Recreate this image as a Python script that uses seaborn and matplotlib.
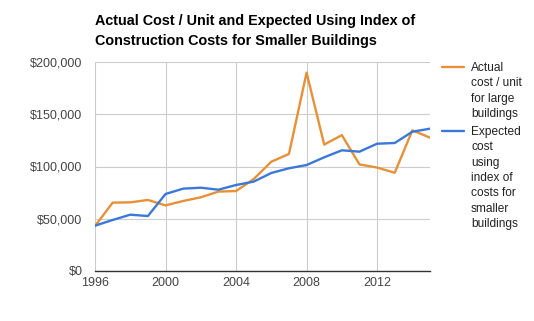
import matplotlib
matplotlib.use("Agg")
import matplotlib.pyplot as plt
import matplotlib.ticker as mticker
from matplotlib.lines import Line2D
import seaborn as sns
import pandas as pd

years = list(range(1996, 2016))
actual_large = [43000, 65400, 65700, 68000, 62800, 67000, 70500, 76000, 76500, 88000,
                104600, 112000, 189800, 121000, 130000, 102000, 99000, 94000, 134600, 127600]
expected_small = [43400, 48800, 53900, 52600, 73700, 78800, 79700, 77800, 82300, 85500,
                  93800, 98300, 101400, 108800, 115500, 114200, 121800, 122500, 133300, 136200]
series_names = ["Actual\ncost / unit\nfor large\nbuildings",
                "Expected\ncost\nusing\nindex of\ncosts for\nsmaller\nbuildings"]
title = "Actual Cost / Unit and Expected Using Index of\nConstruction Costs for Smaller Buildings"
x_ticks = [1996, 2000, 2004, 2008, 2012]
y_ticks = [0, 50000, 100000, 150000, 200000]
colors = ["#e69138", "#3c78d8"]

df = pd.DataFrame({
    "year": years * 2,
    "value": actual_large + expected_small,
    "series": [series_names[0]] * len(years) + [series_names[1]] * len(years),
})

sns.set_theme(style="white")
plt.rcParams["font.family"] = ["Liberation Sans", "DejaVu Sans"]

W, H = 534, 321
fig = plt.figure(figsize=(W / 100, H / 100), dpi=100)
ax = fig.add_axes([95 / W, 1 - 271 / H, (430 - 95) / W, (271 - 62) / H])

sns.lineplot(data=df, x="year", y="value", hue="series", palette=colors,
             linewidth=1.7, ax=ax, legend=False)

ax.set_xlim(1996, 2015)
ax.set_ylim(0, 200000)
ax.set_xticks(x_ticks)
ax.set_yticks(y_ticks)
ax.yaxis.set_major_formatter(mticker.FuncFormatter(lambda v, p: f"${v:,.0f}"))
ax.grid(True, color="#cccccc", linewidth=0.8)
ax.set_axisbelow(True)
for s in ["top", "right", "left"]:
    ax.spines[s].set_visible(False)
ax.spines["bottom"].set_color("#333333")
ax.spines["bottom"].set_linewidth(1.0)
ax.tick_params(axis="both", length=0, labelsize=9, colors="#444444")
ax.tick_params(axis="y", pad=9)
ax.tick_params(axis="x", pad=4)
ax.set_xlabel("")
ax.set_ylabel("")

fig.text(95 / W, 1 - 14 / H, title, ha="left", va="top",
         fontsize=10.4, fontweight="bold", color="#000000", linespacing=1.5)

# Legend: colour key beside the first line of each wrapped label
legend_tops = [67, 131]
for name, color, yc in zip(series_names, colors, legend_tops):
    fig.add_artist(Line2D([442 / W, 464 / W], [1 - yc / H, 1 - yc / H],
                          transform=fig.transFigure, color=color, linewidth=1.7))
    fig.text(471 / W, 1 - (yc - 5) / H, name, ha="left", va="top",
             fontsize=8.6, color="#222222", linespacing=1.37)

fig.savefig("out.png", dpi=100)
